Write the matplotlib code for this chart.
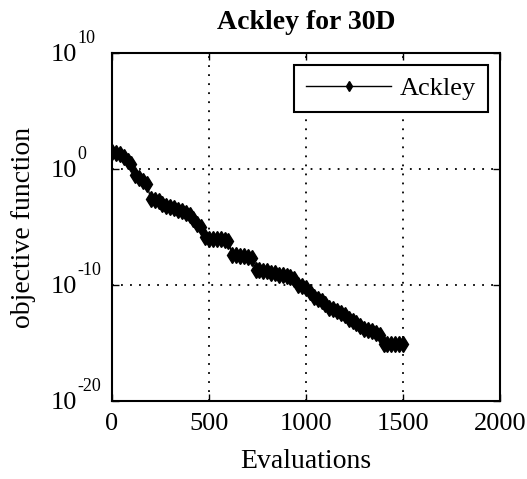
import matplotlib
matplotlib.use("Agg")
import matplotlib.pyplot as plt
import numpy as np

# Data (evaluations, log10 objective)
evaluations = [0, 20, 40, 60, 80, 100, 120, 140, 160, 180,
               200, 220, 240, 260, 280, 300, 320, 340, 360, 380,
               400, 420, 440, 460, 480, 500, 520, 540, 560, 580,
               600, 620, 640, 660, 680, 700, 720, 740, 760, 780,
               800, 820, 840, 860, 880, 900, 920, 940, 960, 980,
               1000, 1020, 1040, 1060, 1080, 1100, 1120, 1140, 1160, 1180,
               1200, 1220, 1240, 1260, 1280, 1300, 1320, 1340, 1360, 1380,
               1400, 1420, 1440, 1460, 1480, 1500]
log_objective = [1.5, 1.4, 1.3, 1.0, 0.7, 0.4, -0.5, -0.8, -1.0, -1.3,
                 -2.6, -2.7, -2.8, -3.0, -3.2, -3.3, -3.4, -3.5, -3.6, -3.8,
                 -4.0, -4.3, -4.7, -5.0, -5.9, -6.0, -6.0, -6.0, -6.0, -6.1,
                 -6.2, -7.4, -7.4, -7.5, -7.5, -7.6, -7.7, -8.7, -8.7, -8.8,
                 -8.8, -9.0, -9.0, -9.1, -9.1, -9.2, -9.3, -9.5, -10.0, -10.1,
                 -10.3, -10.6, -11.0, -11.2, -11.4, -11.6, -12.0, -12.1, -12.2, -12.4,
                 -12.6, -12.9, -13.1, -13.3, -13.5, -13.8, -13.9, -14.0, -14.1, -14.3,
                 -15.1, -15.1, -15.1, -15.1, -15.1, -15.1]
objective = [10.0 ** v for v in log_objective]

x_ticks = [0, 500, 1000, 1500, 2000]
x_tick_labels = ["0", "500", "1000", "1500", "2000"]
y_ticks = [1e-20, 1e-10, 1e0, 1e10]
y_tick_exponents = ["-20", "-10", "0", "10"]

plt.rcParams["font.family"] = ["Liberation Serif", "DejaVu Serif"]

fig = plt.figure(figsize=(5.27, 4.79), dpi=100)
ax = fig.add_axes([112 / 527, 1 - 401 / 479, (500 - 112) / 527, (401 - 53) / 479])

ax.plot(evaluations, objective, color="black", linewidth=1.0,
        marker="d", markersize=8, markerfacecolor="black",
        markeredgecolor="black", label="Ackley")

ax.set_yscale("log")
ax.set_xlim(0, 2000)
ax.set_ylim(1e-20, 1e10)
ax.set_xticks(x_ticks)
ax.set_xticklabels(x_tick_labels)
ax.set_yticks(y_ticks)
ax.set_yticklabels([""] * len(y_ticks))
ax.yaxis.set_minor_locator(matplotlib.ticker.NullLocator())

ax.tick_params(axis="both", which="major", direction="in", length=5, width=1,
               top=True, right=True, labelsize=19)
ax.tick_params(axis="x", pad=9)

# y tick labels: base "10" with raised exponent (hyphen style as in reference)
for t, e in zip(y_ticks, y_tick_exponents):
    ax.annotate("10", xy=(0, t), xycoords=("axes fraction", "data"),
                xytext=(-35, -2), textcoords="offset pixels",
                ha="right", va="center", fontsize=19, annotation_clip=False)
    ax.annotate(e, xy=(0, t), xycoords=("axes fraction", "data"),
                xytext=(-35, 6), textcoords="offset pixels",
                ha="left", va="bottom", fontsize=13, annotation_clip=False)

ax.grid(True, color="black", linestyle=(0, (1, 4)), linewidth=1.3)
for s in ax.spines.values():
    s.set_linewidth(1.5)

ax.set_title("Ackley for 30D", fontsize=20, fontweight="bold", pad=17)
ax.set_xlabel("Evaluations", fontsize=20, labelpad=10)
ax.set_ylabel("objective function", fontsize=20, labelpad=51)

leg = ax.legend(loc="upper right", fontsize=19, handlelength=3.2,
                handletextpad=0.35, borderaxespad=0.45, borderpad=0.45,
                fancybox=False, framealpha=1, edgecolor="black",
                markerscale=0.7)
leg.get_frame().set_linewidth(1.5)

fig.savefig("out.png", dpi=100)
